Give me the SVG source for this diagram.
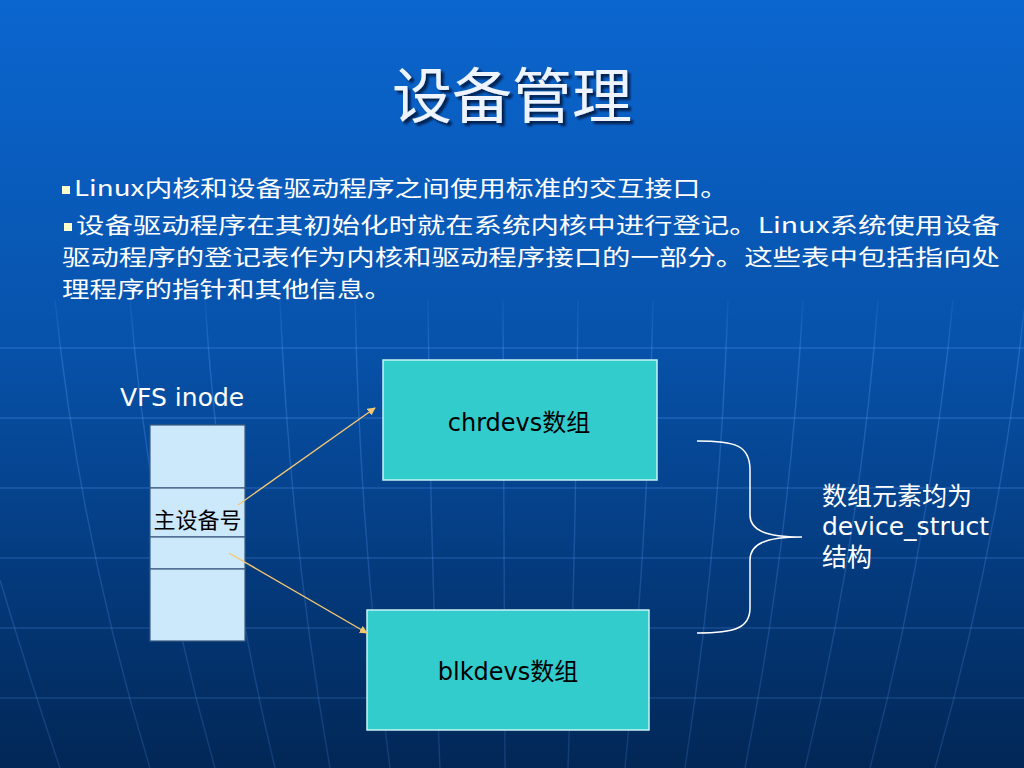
<svg xmlns="http://www.w3.org/2000/svg" width="1024" height="768" viewBox="0 0 1024 768">
<defs>
<linearGradient id="bg" x1="0" y1="0" x2="0" y2="1">
<stop offset="0" stop-color="#0b66cf"/>
<stop offset="0.45" stop-color="#0752aa"/>
<stop offset="0.75" stop-color="#043a7c"/>
<stop offset="1" stop-color="#022756"/>
</linearGradient>
<linearGradient id="gridg" gradientUnits="userSpaceOnUse" x1="0" y1="280" x2="0" y2="768">
<stop offset="0" stop-color="#5aa0ff" stop-opacity="0"/>
<stop offset="0.15" stop-color="#5aa0ff" stop-opacity="0.3"/>
<stop offset="1" stop-color="#4a8ae0" stop-opacity="0.22"/>
</linearGradient>
<marker id="arr" viewBox="0 0 10 10" refX="9" refY="5" markerWidth="8" markerHeight="8" markerUnits="userSpaceOnUse" orient="auto">
<path d="M0,0 L10,5 L0,10 z" fill="#f5c870"/>
</marker>
<filter id="sh" x="-10%" y="-10%" width="130%" height="130%">
<feDropShadow dx="3" dy="3" stdDeviation="1" flood-color="#001030" flood-opacity="0.8"/>
</filter>
</defs>
<style>
.grid{fill:none;stroke:url(#gridg);stroke-width:1.4}
.body{font-family:"Noto Sans CJK SC",sans-serif;font-size:22px;fill:#ffffff}
.lbl{font-family:"DejaVu Sans","Noto Sans CJK SC",sans-serif;fill:#000000}
.wlbl{font-family:"DejaVu Sans","Noto Sans CJK SC",sans-serif;font-size:25px;fill:#ffffff}
.cell{fill:#cce8fb;stroke:#3a5a80;stroke-width:1.2}
.arr{fill:#33cccc;stroke:#c8f4f4;stroke-width:1.5}
.conn{stroke:#f5c870;stroke-width:1.4;fill:none;marker-end:url(#arr)}
.brace{fill:none;stroke:#ffffff;stroke-width:1.5}
</style>
<rect width="1024" height="768" fill="url(#bg)"/>
<g id="background-grid">
<path class="grid" d="M0,348 H1024 M0,418 H1024 M0,488 H1024 M0,558 H1024 M0,628 H1024 M0,698 H1024"/>
<path class="grid" d="M55,300 Q80,540 150,768"/>
<path class="grid" d="M130,300 Q150,540 215,768"/>
<path class="grid" d="M205,300 Q220,540 275,768"/>
<path class="grid" d="M280,300 Q290,540 330,768"/>
<path class="grid" d="M355,300 Q360,540 390,768"/>
<path class="grid" d="M428,300 Q430,540 440,768"/>
<path class="grid" d="M503,300 Q503,540 505,768"/>
<path class="grid" d="M578,300 Q576,540 568,768"/>
<path class="grid" d="M653,300 Q648,540 625,768"/>
<path class="grid" d="M728,300 Q720,540 685,768"/>
<path class="grid" d="M803,300 Q790,540 745,768"/>
<path class="grid" d="M878,300 Q860,540 805,768"/>
<path class="grid" d="M953,300 Q930,540 870,768"/>
<path class="grid" d="M1024,310 Q1000,540 935,768"/>
<path class="grid" d="M0,580 Q30,680 60,768"/>
</g>
<g id="title">
<text x="512" y="118" text-anchor="middle" font-family="Noto Sans CJK SC, sans-serif" font-size="60" fill="#eef4ff" filter="url(#sh)">设备管理</text>
</g>
<g id="bullets">
<rect x="62" y="186" width="8" height="8" fill="#ffffcc"/>
<text class="body" x="74" y="196" textLength="654" lengthAdjust="spacingAndGlyphs">Linux内核和设备驱动程序之间使用标准的交互接口。</text>
<rect x="64" y="223" width="8" height="8" fill="#ffffcc"/>
<text class="body" x="76" y="233" textLength="924" lengthAdjust="spacingAndGlyphs">设备驱动程序在其初始化时就在系统内核中进行登记。Linux系统使用设备</text>
<text class="body" x="62" y="265" textLength="938" lengthAdjust="spacingAndGlyphs">驱动程序的登记表作为内核和驱动程序接口的一部分。这些表中包括指向处</text>
<text class="body" x="62" y="297" textLength="330" lengthAdjust="spacingAndGlyphs">理程序的指针和其他信息。</text>
</g>
<g id="vfs-inode-label">
<text class="wlbl" x="120" y="406">VFS inode</text>
</g>
<g id="vfs-inode">
<rect class="cell" x="150" y="425" width="95" height="63"/>
<rect class="cell" x="150" y="488" width="95" height="49"/>
<rect class="cell" x="150" y="537" width="95" height="32"/>
<rect class="cell" x="150" y="569" width="95" height="72"/>
<text x="197.5" y="528" text-anchor="middle" font-family="Noto Sans CJK SC, sans-serif" font-size="22" fill="#000000">主设备号</text>
</g>
<g id="chrdevs">
<rect class="arr" x="383" y="360" width="274" height="120"/>
<text class="lbl" x="519" y="431" text-anchor="middle" font-size="24">chrdevs数组</text>
</g>
<g id="blkdevs">
<rect class="arr" x="367" y="610" width="282" height="120"/>
<text class="lbl" x="508" y="680" text-anchor="middle" font-size="24">blkdevs数组</text>
</g>
<g id="connectors">
<line class="conn" x1="238" y1="505" x2="375" y2="408"/>
<line class="conn" x1="229" y1="553" x2="367" y2="633"/>
</g>
<g id="brace">
<path class="brace" d="M697,441 C735,441 750,445 750,470 L750,515 C750,530 765,537 802,537 C765,537 750,544 750,560 L750,608 C750,628 735,633 697,633"/>
</g>
<g id="note">
<text class="wlbl"><tspan x="822" y="505">数组元素均为</tspan><tspan x="822" y="535">device_struct</tspan><tspan x="822" y="566">结构</tspan></text>
</g>
</svg>
